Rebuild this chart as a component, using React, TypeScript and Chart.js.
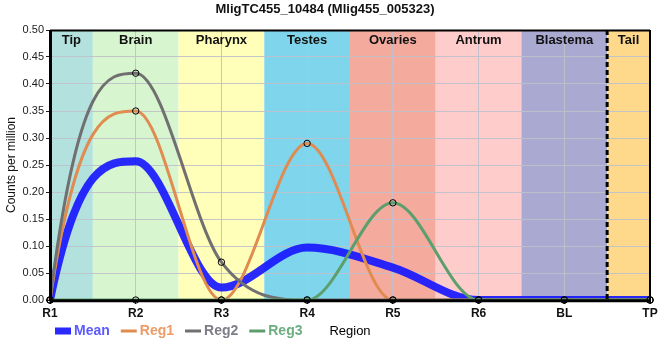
import React, { useEffect, useRef } from "react";
import { Chart, registerables } from "chart.js";

Chart.register(...registerables);

// ---- data ----
const chartTitle = "MligTC455_10484 (Mlig455_005323)";
const categories = ["R1", "R2", "R3", "R4", "R5", "R6", "BL", "TP"];
const meanValues = [0, 0.257, 0.023, 0.097, 0.06, 0, 0, 0];
const reg1Values = [0, 0.35, 0, 0.29, 0, 0, 0, 0];
const reg2Values = [0, 0.42, 0.07, 0, 0, 0, 0, 0];
const reg3Values = [0, 0, 0, 0, 0.18, 0, 0, 0];
const seriesLabels = ["Mean", "Reg1", "Reg2", "Reg3"];
const regionNames = ["Tip", "Brain", "Pharynx", "Testes", "Ovaries", "Antrum", "Blastema", "Tail"];
const regionStarts = [0, 0.5, 1.5, 2.5, 3.5, 4.5, 5.5, 6.5];
const regionEnds = [0.5, 1.5, 2.5, 3.5, 4.5, 5.5, 6.5, 7];
const tailBoundary = 6.5;
const yMin = 0;
const yMax = 0.5;
const yStep = 0.05;
const xAxisTitle = "Region";
const yAxisTitle = "Counts per million";

// ---- styles ----
const FONT = "'Liberation Sans', Arial, Helvetica, sans-serif";
const regionColors = ["#b3e2de", "#d7f5ce", "#ffffb9", "#7fd5eb", "#f5aa9e", "#fdcccb", "#aaa9d1", "#fed98c"];
const lineColors = ["rgba(24,24,255,0.92)", "#e08b50", "#707070", "#5c9e6c"];
const legendTextColors = ["#5a5aff", "#eb9c68", "#7d7d88", "#6cae80"];
const lineWidths = [8, 3, 3, 3];

const bandsPlugin = {
  id: "bands",
  beforeDraw(chart: any) {
    const { ctx, chartArea } = chart;
    const xs = chart.scales.x;
    ctx.save();
    for (let i = 0; i < regionNames.length; i++) {
      const x0 = xs.getPixelForValue(regionStarts[i]);
      const x1 = xs.getPixelForValue(regionEnds[i]);
      ctx.fillStyle = regionColors[i];
      ctx.fillRect(x0, chartArea.top, x1 - x0, chartArea.bottom - chartArea.top);
    }
    ctx.restore();
  },
  beforeDatasetsDraw(chart: any) {
    const { ctx, chartArea } = chart;
    const xs = chart.scales.x;
    ctx.save();
    ctx.font = `bold 13px ${FONT}`;
    ctx.fillStyle = "#111";
    ctx.textAlign = "center";
    ctx.textBaseline = "middle";
    for (let i = 0; i < regionNames.length; i++) {
      const x0 = xs.getPixelForValue(regionStarts[i]);
      const x1 = xs.getPixelForValue(regionEnds[i]);
      ctx.fillText(regionNames[i], (x0 + x1) / 2, chartArea.top + 10);
    }
    ctx.restore();
  },
  afterDatasetsDraw(chart: any) {
    const { ctx, chartArea } = chart;
    const xs = chart.scales.x;
    ctx.save();
    // dashed boundary before tail
    const xd = xs.getPixelForValue(tailBoundary);
    ctx.strokeStyle = "#000";
    ctx.lineWidth = 3;
    ctx.setLineDash([5, 3]);
    ctx.beginPath();
    ctx.moveTo(xd, chartArea.top);
    ctx.lineTo(xd, chartArea.bottom);
    ctx.stroke();
    ctx.setLineDash([]);
    // top + right frame
    ctx.lineWidth = 2;
    ctx.beginPath();
    ctx.moveTo(chartArea.left, chartArea.top + 0.5);
    ctx.lineTo(chartArea.right, chartArea.top + 0.5);
    ctx.moveTo(chartArea.right, chartArea.top);
    ctx.lineTo(chartArea.right, chartArea.bottom);
    ctx.stroke();
    // axes
    ctx.lineWidth = 3;
    ctx.beginPath();
    ctx.moveTo(chartArea.left + 0.5, chartArea.top);
    ctx.lineTo(chartArea.left + 0.5, chartArea.bottom + 1.5);
    ctx.moveTo(chartArea.left, chartArea.bottom + 0.8);
    ctx.lineTo(chartArea.right + 1, chartArea.bottom + 0.8);
    ctx.stroke();
    ctx.restore();
  },
};

// open-ended first segment: use a steep tangent at the first point
const steepStartPlugin = {
  id: "steepStart",
  beforeDatasetDraw(chart: any, args: any) {
    const meta = args.meta;
    const line = meta.dataset;
    if (!line || typeof line.updateControlPoints !== "function") return;
    line.updateControlPoints(chart.chartArea, meta.iScale ? meta.iScale.axis : "x");
    const pts = line.points;
    if (!pts || pts.length < 2) return;
    const p0 = pts[0];
    const p1 = pts[1];
    p0.cp2x = p0.x + (p1.x - p0.x) / 3;
    p0.cp2y = p1.y;
    line._path = undefined;
  },
};

const legendPlugin = {
  id: "rowLegend",
  afterDraw(chart: any) {
    const { ctx, chartArea } = chart;
    const y = chartArea.bottom + 31;
    let x = chartArea.left + 5;
    ctx.save();
    ctx.font = `bold 14px ${FONT}`;
    ctx.textBaseline = "middle";
    ctx.textAlign = "left";
    chart.data.datasets.forEach((ds: any, i: number) => {
      const h = ds.borderWidth >= 6 ? 7 : 3;
      ctx.fillStyle = ds.borderColor;
      ctx.fillRect(x, y - h / 2, 16, h);
      x += 19;
      ctx.fillStyle = legendTextColors[i];
      ctx.fillText(ds.label, x, y + 0.5);
      x += ctx.measureText(ds.label).width + 11;
    });
    ctx.restore();
  },
};

export default function App() {
  const canvasRef = useRef<HTMLCanvasElement | null>(null);

  useEffect(() => {
    if (!canvasRef.current) return;
    const seriesValues = [meanValues, reg1Values, reg2Values, reg3Values];
    const chart = new Chart(canvasRef.current, {
      type: "line",
      data: {
        labels: categories,
        datasets: seriesValues.map((vals, i) => ({
          label: seriesLabels[i],
          data: vals,
          borderColor: lineColors[i],
          backgroundColor: "transparent",
          borderWidth: lineWidths[i],
          cubicInterpolationMode: "monotone" as const,
          pointRadius: i === 0 ? 0 : 3.2,
          pointBorderWidth: 1,
          pointBorderColor: "#000",
          pointBackgroundColor: "rgba(0,0,0,0)",
          pointHoverRadius: 3,
          fill: false,
          order: 4 - i,
          clip: i === 0 ? 0 : 6,
        })),
      },
      options: {
        animation: false,
        responsive: false,
        events: [],
        layout: { padding: { left: 0, right: 10, top: 0, bottom: 17.2 } },
        plugins: {
          legend: { display: false },
          tooltip: { enabled: false },
          title: {
            display: true,
            text: chartTitle,
            color: "#111",
            font: { family: FONT, size: 13, weight: "bold" },
            padding: { top: 1.5, bottom: 12.9 },
          },
        },
        scales: {
          x: {
            type: "category",
            offset: false,
            grid: {
              color: "rgba(192,192,202,0.9)",
              lineWidth: 1,
              tickColor: "#222",
              tickLength: 4,
            },
            border: { display: false },
            ticks: {
              color: "#111",
              font: { family: FONT, size: 12, weight: "bold" },
              padding: 2,
              maxRotation: 0,
              autoSkip: false,
            },
            title: {
              display: true,
              text: xAxisTitle,
              color: "#000",
              font: { family: FONT, size: 13 },
              padding: { top: 4, bottom: 4 },
            },
            afterFit: (scale: any) => {
              scale.height = 42.8;
            },
          },
          y: {
            min: yMin,
            max: yMax,
            grid: {
              color: "rgba(192,192,202,0.9)",
              lineWidth: 1,
              tickColor: "#222",
              tickLength: 4,
            },
            border: { display: false },
            ticks: {
              stepSize: yStep,
              color: "#222",
              font: { family: FONT, size: 11 },
              padding: 2,
              callback: (v: any) => Number(v).toFixed(2),
            },
            title: {
              display: true,
              text: yAxisTitle,
              color: "#111",
              font: { family: FONT, size: 12 },
              padding: { top: 4, bottom: 4 },
            },
            afterFit: (scale: any) => {
              scale.width = 50;
            },
          },
        },
      },
      plugins: [bandsPlugin, steepStartPlugin, legendPlugin],
    });
    return () => chart.destroy();
  }, []);

  return (
    <div style={{ position: "absolute", left: 0, top: 0, width: 660, height: 360, background: "#fff" }}>
      <canvas ref={canvasRef} width={660} height={360} style={{ display: "block" }} />
    </div>
  );
}
